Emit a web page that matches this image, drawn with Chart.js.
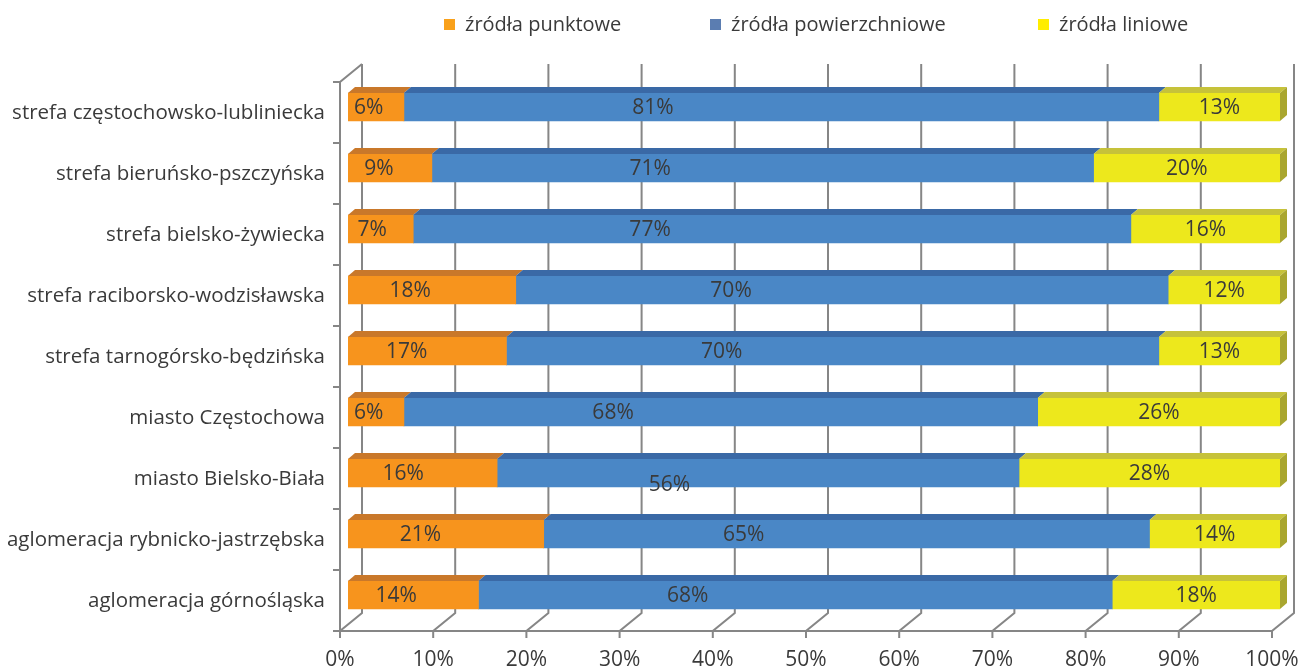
<!DOCTYPE html>
<html lang="pl">
<head>
<meta charset="UTF-8">
<title>Udział źródeł emisji w strefach</title>
<script src="https://cdn.jsdelivr.net/npm/chart.js"></script>
<style>
    html, body { margin: 0; padding: 0; background: #fff; }
    #wrap { width: 1298px; height: 666px; position: relative; }
</style>
</head>
<body>
<div id="wrap"><canvas id="chart"></canvas></div>
<script>
// data (percent shares, top to bottom)
const categories = [
    'strefa częstochowsko-lubliniecka',
    'strefa bieruńsko-pszczyńska',
    'strefa bielsko-żywiecka',
    'strefa raciborsko-wodzisławska',
    'strefa tarnogórsko-będzińska',
    'miasto Częstochowa',
    'miasto Bielsko-Biała',
    'aglomeracja rybnicko-jastrzębska',
    'aglomeracja górnośląska'
];
const seriesNames = ['źródła punktowe', 'źródła powierzchniowe', 'źródła liniowe'];
const punktowe       = [6, 9, 7, 18, 17, 6, 16, 21, 14];
const powierzchniowe = [81, 71, 77, 70, 70, 68, 56, 65, 68];
const liniowe        = [13, 20, 16, 12, 13, 26, 28, 14, 18];
const xTicks = [0, 10, 20, 30, 40, 50, 60, 70, 80, 90, 100];

const FONT = '"Open Sans", "DejaVu Sans", sans-serif';
const TEXT = '#3a3a3a';
const GRID = '#868686';

// front face / top face / side face colours per series
const faceColors = ['#F7941D', '#4A87C6', '#EDE81C'];
const topColors  = ['#C9782A', '#3A69A6', '#C6C23A'];
const sideColor  = '#A9A62F';
const legendColors = ['#F9A11B', '#5B7DB1', '#FFED00'];
const labelFrac = [0.37, 0.33, 0.5];   // where the value label sits inside a segment

// 3D offsets relative to the bar plane
const FRONT = { dx: -8, dy: 5.5 };
const BACK  = { dx: 14, dy: -12.5 };
const DEPTH = { dx: 7, dy: -6 };

const frame3d = {
    id: 'frame3d',
    beforeDatasetsDraw(chart) {
        const { ctx, chartArea: a, scales: { x } } = chart;
        const yTopF = a.top + FRONT.dy, yBotF = a.bottom + FRONT.dy;
        const yTopB = a.top + BACK.dy,  yBotB = a.bottom + BACK.dy;
        ctx.save();
        ctx.strokeStyle = GRID;
        ctx.lineWidth = 2;
        ctx.beginPath();
        xTicks.forEach(v => {
            const px = x.getPixelForValue(v);
            // back wall gridline
            ctx.moveTo(px + BACK.dx, yTopB);
            ctx.lineTo(px + BACK.dx, yBotB);
            // floor diagonal
            ctx.lineTo(px + FRONT.dx, yBotF);
            // tick mark
            ctx.lineTo(px + FRONT.dx, yBotF + 7);
        });
        // front floor edge
        ctx.moveTo(x.getPixelForValue(0) + FRONT.dx, yBotF);
        ctx.lineTo(x.getPixelForValue(100) + FRONT.dx, yBotF);
        // left wall front edge and top
        const x0 = x.getPixelForValue(0);
        ctx.moveTo(x0 + FRONT.dx, yBotF);
        ctx.lineTo(x0 + FRONT.dx, yTopF);
        ctx.lineTo(x0 + BACK.dx, yTopB);
        // category ticks on left wall
        const band = (a.bottom - a.top) / categories.length;
        for (let i = 0; i <= categories.length; i++) {
            const yy = a.top + FRONT.dy + band * i;
            ctx.moveTo(x0 + FRONT.dx - 7, yy);
            ctx.lineTo(x0 + FRONT.dx, yy);
        }
        ctx.stroke();

        // axis labels
        ctx.fillStyle = TEXT;
        ctx.font = '21px ' + FONT;
        ctx.textBaseline = 'middle';
        ctx.textAlign = 'center';
        xTicks.forEach(v => {
            ctx.fillText(v + '%', x.getPixelForValue(v) + FRONT.dx, yBotF + 29);
        });
        ctx.font = '20.5px ' + FONT;
        ctx.textAlign = 'right';
        const y = chart.scales.y;
        categories.forEach((c, i) => {
            ctx.fillText(c, x0 + FRONT.dx - 15, y.getPixelForValue(i) + FRONT.dy + 1);
        });
        ctx.restore();
    },
    afterDatasetsDraw(chart) {
        const { ctx } = chart;
        ctx.save();
        const n = chart.data.datasets.length;
        chart.data.datasets.forEach((ds, d) => {
            const meta = chart.getDatasetMeta(d);
            meta.data.forEach(el => {
                const p = el.getProps(['x', 'y', 'base', 'height'], true);
                const top = p.y - p.height / 2, bot = p.y + p.height / 2;
                ctx.fillStyle = topColors[d];
                ctx.beginPath();
                ctx.moveTo(p.base, top);
                ctx.lineTo(p.x, top);
                ctx.lineTo(p.x + DEPTH.dx, top + DEPTH.dy);
                ctx.lineTo(p.base + DEPTH.dx, top + DEPTH.dy);
                ctx.closePath();
                ctx.fill();
                if (d === n - 1) {
                    ctx.fillStyle = sideColor;
                    ctx.beginPath();
                    ctx.moveTo(p.x, top);
                    ctx.lineTo(p.x + DEPTH.dx, top + DEPTH.dy);
                    ctx.lineTo(p.x + DEPTH.dx, bot + DEPTH.dy);
                    ctx.lineTo(p.x, bot);
                    ctx.closePath();
                    ctx.fill();
                }
            });
        });
        // value labels
        ctx.fillStyle = TEXT;
        ctx.font = '21px ' + FONT;
        ctx.textAlign = 'center';
        ctx.textBaseline = 'middle';
        chart.data.datasets.forEach((ds, d) => {
            chart.getDatasetMeta(d).data.forEach((el, i) => {
                const p = el.getProps(['x', 'y', 'base'], true);
                let ly = p.y + 1;
                if (d === 1 && i === 6) ly += 11;   // this one label sits low in the original
                ctx.fillText(ds.data[i] + '%', p.base + (p.x - p.base) * labelFrac[d], ly);
            });
        });
        ctx.restore();
    },
    afterDraw(chart) {
        const { ctx } = chart;
        const sq = [444, 710, 1038];
        ctx.save();
        ctx.font = '20px ' + FONT;
        ctx.textBaseline = 'middle';
        ctx.textAlign = 'left';
        seriesNames.forEach((s, i) => {
            ctx.fillStyle = legendColors[i];
            ctx.fillRect(sq[i], 19, 11, 11);
            ctx.fillStyle = TEXT;
            ctx.fillText(s, sq[i] + 21, 25);
        });
        ctx.restore();
    }
};

const ctx = document.getElementById('chart').getContext('2d');
new Chart(ctx, {
    type: 'bar',
    data: {
        labels: categories,
        datasets: [punktowe, powierzchniowe, liniowe].map((vals, i) => ({
            label: seriesNames[i],
            data: vals,
            backgroundColor: faceColors[i],
            borderWidth: 0,
            barThickness: 28
        }))
    },
    options: {
        indexAxis: 'y',
        responsive: true,
        maintainAspectRatio: false,
        animation: false,
        layout: { padding: { left: 348, right: 18, top: 76.5, bottom: 40.5 } },
        scales: {
            x: { stacked: true, min: 0, max: 100, display: false },
            y: { stacked: true, display: false }
        },
        plugins: {
            legend: { display: false },
            tooltip: { enabled: false }
        }
    },
    plugins: [frame3d]
});
</script>
</body>
</html>
